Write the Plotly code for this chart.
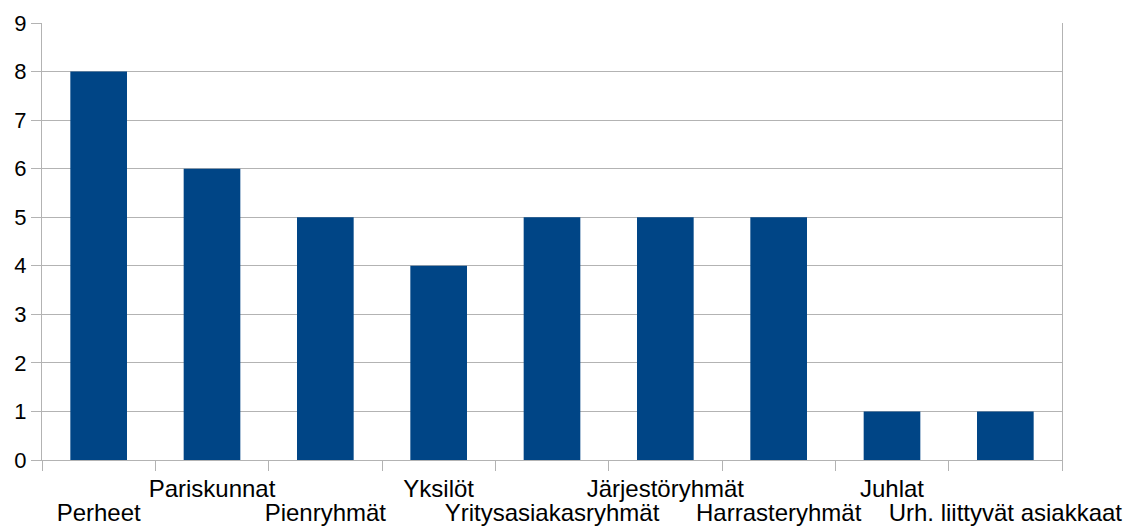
import plotly.graph_objects as go

categories = ["Perheet", "Pariskunnat", "Pienryhmät", "Yksilöt", "Yritysasiakasryhmät",
              "Järjestöryhmät", "Harrasteryhmät", "Juhlat", "Urh. liittyvät asiakkaat"]
values = [8, 6, 5, 4, 5, 5, 5, 1, 1]
y_ticks = [0, 1, 2, 3, 4, 5, 6, 7, 8, 9]

upper_text = [c if i % 2 == 1 else "" for i, c in enumerate(categories)]
lower_text = [c if i % 2 == 0 else "" for i, c in enumerate(categories)]

GRID = "#b3b3b3"
BAR = "#004586"
FONT = dict(family="Liberation Sans, Arial, sans-serif", size=22, color="#000000")
XFONT = dict(family="Liberation Sans, Arial, sans-serif", size=24, color="#000000")

fig = go.Figure()
fig.add_trace(go.Bar(x=categories, y=values, marker=dict(color=BAR, line=dict(width=0)),
                     showlegend=False))
fig.add_trace(go.Scatter(x=categories, y=values, mode="none", xaxis="x2",
                         showlegend=False, hoverinfo="skip"))

fig.update_layout(
    width=1128, height=526,
    margin=dict(l=42, r=66, t=23, b=66),
    plot_bgcolor="white", paper_bgcolor="white",
    bargap=0.5,
    font=FONT,
    xaxis=dict(
        type="category", categoryorder="array", categoryarray=categories,
        range=[-0.5, len(categories) - 0.5],
        tickmode="array", tickvals=categories, ticktext=upper_text,
        tickson="boundaries", ticks="outside", ticklen=10, tickcolor=GRID, tickwidth=1,
        showgrid=False, showline=True, linecolor=GRID, linewidth=1,
        tickfont=XFONT, ticklabelstandoff=7, tickangle=0, automargin=False,
    ),
    xaxis2=dict(
        type="category", categoryorder="array", categoryarray=categories,
        range=[-0.5, len(categories) - 0.5],
        overlaying="x", anchor="y", side="bottom",
        tickmode="array", tickvals=categories, ticktext=lower_text,
        ticks="", showgrid=False, showline=False, zeroline=False,
        tickfont=XFONT, ticklabelstandoff=36, tickangle=0, automargin=False,
    ),
    yaxis=dict(
        range=[0, 9], tickmode="array", tickvals=y_ticks,
        showgrid=True, gridcolor=GRID, gridwidth=1,
        ticks="outside", ticklen=10, tickcolor=GRID, tickwidth=1,
        showline=True, linecolor=GRID, linewidth=1, mirror=True,
        zeroline=False, tickfont=FONT, automargin=False,
    ),
)

fig.write_html("out.html")
